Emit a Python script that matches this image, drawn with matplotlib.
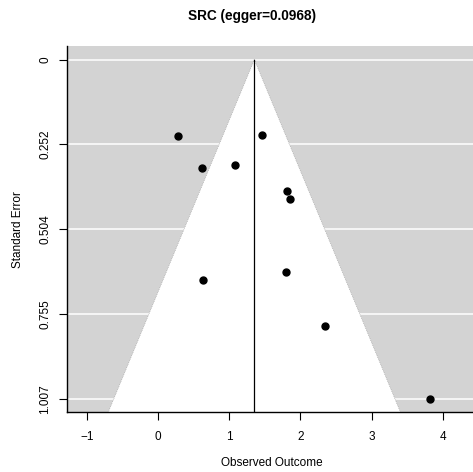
import numpy as np
import matplotlib.pyplot as plt

plt.rcParams['font.family'] = ['Liberation Sans', 'DejaVu Sans']

# study estimates and their standard errors
estimates = [0.282, 1.462, 0.619, 1.078, 1.813, 1.860, 1.799, 0.633, 2.349, 3.821]
std_errors = [0.228, 0.223, 0.321, 0.313, 0.389, 0.414, 0.631, 0.655, 0.790, 1.007]
pooled = 1.354
egger_p = 0.0968

se_ticks = [0, 0.252, 0.504, 0.755, 1.007]
se_tick_labels = ["0", "0.252", "0.504", "0.755", "1.007"]
x_ticks = [-1, 0, 1, 2, 3, 4]

fig = plt.figure(figsize=(4.73, 4.72), dpi=100)
ax = fig.add_axes([67 / 473, 1 - 412.3 / 472, 406 / 473, 366.3 / 472])

se_max = max(std_errors)
y_lo, y_hi = -0.04 * se_max, 1.04 * se_max
ax.set_xlim(-1.277, 4.425)
ax.set_ylim(y_hi, y_lo)
ax.set_facecolor("#d3d3d3")

# white reference lines at each tick
for t in se_ticks:
    ax.axhline(t, color="white", lw=1.1, zorder=1)

# pseudo 95% confidence funnel
z = 1.96
fx = [pooled, pooled - z * y_hi, pooled + z * y_hi]
fy = [0, y_hi, y_hi]
ax.fill(fx, fy, color="white", lw=0, zorder=2)
ax.plot([pooled, pooled - z * y_hi], [0, y_hi], color="#9a9a9a", lw=0.5, ls=":", zorder=3)
ax.plot([pooled, pooled + z * y_hi], [0, y_hi], color="#9a9a9a", lw=0.5, ls=":", zorder=3)
ax.plot([pooled, pooled], [0, y_hi], color="black", lw=0.9, zorder=4)

ax.plot(estimates, std_errors, "o", color="black", ms=5, zorder=5)

for side in ("top", "right"):
    ax.spines[side].set_visible(False)
for side in ("left", "bottom"):
    ax.spines[side].set_linewidth(1.0)

ax.set_xticks(x_ticks)
ax.set_xticklabels(["\u22121", "0", "1", "2", "3", "4"])
ax.set_yticks(se_ticks)
ax.set_yticklabels(se_tick_labels, rotation=90, va="center")
ax.tick_params(axis="both", direction="out", length=5.5, width=0.8, labelsize=8.5)
ax.tick_params(axis="x", pad=8)
ax.tick_params(axis="y", pad=6)

ax.set_xlabel("Observed Outcome", fontsize=8.5, va="center")
ax.xaxis.set_label_coords((272 - 67) / 406, -(463 - 412.3) / 366.3)
ax.set_ylabel("Standard Error", fontsize=8.5, va="center")
ax.yaxis.set_label_coords((18 - 67) / 406, 0.5)

fig.text(252 / 473, 1 - 16 / 472, f"SRC (egger={egger_p})", ha="center", va="center",
         fontsize=9.8, fontweight="bold")

fig.savefig("out.png", dpi=100)
